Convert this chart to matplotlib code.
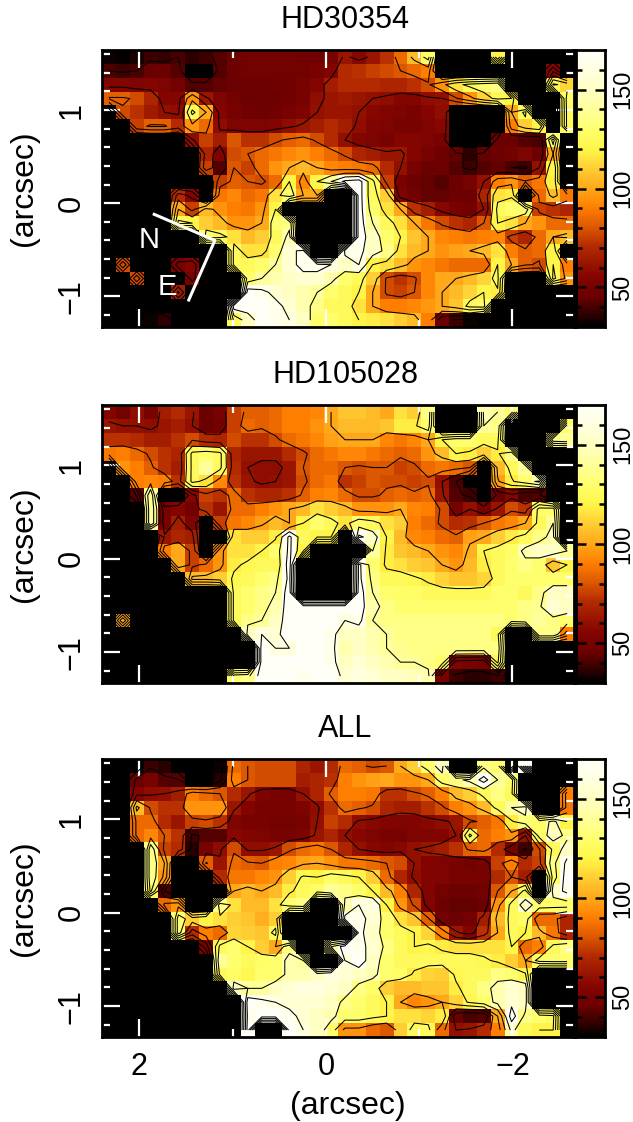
import numpy as np
import matplotlib
matplotlib.use("Agg")
import matplotlib.pyplot as plt
from matplotlib.colors import LinearSegmentedColormap

plt.rcParams['font.family'] = ['Liberation Sans', 'DejaVu Sans']

titles = ["HD30354", "HD105028", "ALL"]

# values, top row first, left column first (0 = black hole)
hd30354 = [
 [32,31,33,38,37,40,36,38,42,46,48,48,48,48,47,47,50,62,56,62,72,85,105,128,0,0,0,0,120,0,0,0,0,0],
 [40,38,40,45,45,42,30,30,42,46,48,48,48,48,48,50,55,70,72,75,78,80,85,90,0,0,0,0,0,0,0,0,55,0],
 [55,55,52,55,52,48,42,42,44,46,46,46,47,47,50,55,65,70,70,70,68,68,72,78,95,115,125,130,135,0,0,0,124,112],
 [82,82,78,68,55,55,95,62,52,48,46,46,46,47,50,58,62,64,62,60,58,55,55,58,60,78,95,112,125,120,0,0,0,128],
 [0,78,72,64,60,58,125,100,55,50,47,46,47,50,52,60,62,62,60,56,54,52,50,55,58,0,0,0,0,100,125,0,0,125],
 [0,0,75,82,82,70,95,85,58,52,52,52,55,58,62,65,70,65,58,54,52,50,50,52,56,0,0,0,0,90,110,120,0,125],
 [0,0,0,0,0,0,58,75,65,80,72,72,78,82,85,78,70,60,55,52,50,55,55,52,50,0,0,0,45,45,42,40,130,0],
 [0,0,0,0,0,0,0,68,52,78,80,85,88,92,95,90,85,78,68,65,62,62,55,50,46,44,36,44,46,48,52,46,100,0],
 [0,0,0,0,0,0,0,75,42,80,75,85,95,100,105,100,92,90,88,85,70,60,50,45,46,42,38,42,44,40,38,60,120,0],
 [0,0,0,0,0,0,0,0,75,82,80,78,85,120,92,120,140,165,170,125,75,50,46,44,42,46,50,60,90,95,82,88,118,0],
 [0,0,0,0,0,70,55,0,88,92,85,88,115,130,100,100,0,0,170,125,110,52,48,44,44,46,46,68,115,118,0,85,105,88],
 [0,0,0,0,0,100,75,105,95,90,88,95,120,0,0,0,0,0,170,130,115,100,72,65,56,50,48,60,125,130,130,75,72,68],
 [0,0,0,0,0,125,120,110,105,95,95,100,130,135,0,0,0,0,170,140,125,115,100,88,78,72,68,80,120,115,100,95,85,85],
 [0,0,0,0,0,0,0,130,125,115,105,110,125,145,0,0,0,0,170,150,130,120,108,100,92,90,88,90,92,75,68,85,100,105],
 [0,0,0,0,0,0,0,0,0,125,115,115,130,155,165,0,0,165,165,150,135,115,105,100,95,98,100,105,115,90,82,85,120,0],
 [0,78,0,0,0,50,55,0,0,125,125,130,140,155,165,165,160,150,160,120,115,105,95,92,88,85,85,85,120,100,82,78,120,90],
 [0,0,78,0,0,0,50,0,0,0,130,140,145,150,155,155,145,130,125,110,78,72,78,92,100,100,105,112,125,0,0,0,125,95],
 [0,0,0,0,0,65,0,0,0,0,170,165,155,150,145,140,130,125,120,100,78,75,80,92,100,105,112,120,118,0,0,0,0,0],
 [0,0,0,0,0,0,0,0,0,170,170,170,165,155,145,135,125,125,115,100,90,90,92,96,100,108,125,128,0,0,0,0,0,0],
 [0,0,0,32,36,0,0,0,0,125,150,170,165,160,150,130,130,125,120,118,115,110,105,90,45,38,32,0,0,0,0,0,0,0],
]

hd105028 = [
 [55,48,58,50,65,70,62,45,50,75,82,82,85,90,90,92,100,108,108,105,100,115,110,135,0,0,0,145,140,130,0,0,0,0],
 [62,60,60,58,62,65,60,45,48,75,85,82,85,90,90,95,100,105,105,105,108,118,118,130,0,0,0,140,135,0,0,0,0,130],
 [72,72,70,65,65,72,78,70,68,78,72,72,78,85,88,92,98,100,100,100,92,88,92,100,120,130,130,125,125,0,0,0,135,140],
 [88,90,85,78,72,68,125,130,125,68,62,62,62,70,78,85,88,92,92,88,85,82,85,95,105,120,118,110,118,135,0,0,0,0],
 [0,95,90,82,72,65,125,140,125,70,60,58,58,62,80,85,85,80,78,80,80,75,78,85,88,85,80,0,105,125,140,0,0,0],
 [0,0,90,92,90,72,125,115,92,72,62,58,60,62,78,85,88,72,75,80,78,78,75,78,60,40,0,0,98,118,130,145,0,0],
 [0,0,42,140,0,0,55,75,72,85,72,68,68,72,82,90,92,85,78,78,82,85,82,85,62,42,38,0,45,55,40,42,0,0],
 [0,0,0,140,50,55,48,72,62,85,85,90,95,100,105,115,110,105,95,95,95,100,92,90,78,50,60,50,62,78,72,128,130,0],
 [0,0,0,140,50,65,52,0,75,88,92,98,105,100,120,130,125,115,130,125,115,110,90,85,78,70,72,80,88,92,100,125,140,0],
 [0,0,0,0,62,68,65,0,0,115,110,110,118,165,125,120,120,0,165,150,120,105,92,90,85,82,98,100,110,118,125,135,145,0],
 [0,0,0,0,90,100,75,0,95,115,115,120,130,165,120,0,0,0,0,140,118,108,105,100,95,92,102,120,125,128,145,150,150,140],
 [0,0,0,0,0,100,75,85,95,118,122,125,125,170,0,0,0,0,165,130,118,115,110,108,100,95,105,118,125,130,135,130,108,120],
 [0,0,0,0,0,0,105,105,110,122,125,130,135,165,0,0,0,0,165,135,125,125,122,118,112,108,108,112,125,130,130,130,130,130],
 [0,0,0,0,0,0,0,0,0,125,130,135,140,170,0,0,0,0,170,140,130,128,128,125,125,125,125,125,130,130,125,135,150,150],
 [0,0,0,0,0,0,0,0,0,125,130,135,145,170,170,170,170,170,170,145,135,130,130,130,130,130,130,130,130,130,135,138,155,150],
 [0,100,0,0,0,0,0,0,0,125,135,140,150,170,170,170,170,160,165,140,135,135,135,135,135,135,135,135,135,130,135,140,135,130],
 [0,0,0,0,0,0,0,0,0,0,150,160,155,170,170,170,165,150,150,145,140,135,135,135,135,135,135,135,125,0,0,135,135,90],
 [0,0,0,0,0,0,0,0,0,0,0,170,160,160,170,170,165,145,150,145,140,138,135,135,135,135,135,135,135,0,0,0,0,0],
 [0,0,0,0,0,0,0,0,0,0,0,170,170,170,170,170,165,150,155,150,145,140,140,135,130,52,50,48,125,0,0,0,0,0],
 [0,0,0,0,0,0,0,0,0,130,135,170,170,170,165,170,170,155,160,155,150,150,148,145,50,38,35,36,38,0,0,0,0,0],
]

hd_all = [
 [0,0,0,38,35,0,0,0,32,85,80,78,78,78,68,62,70,85,82,78,80,100,110,130,150,0,0,135,130,0,170,0,0,0],
 [0,0,45,50,42,42,0,0,35,90,80,78,78,78,65,68,72,90,95,98,100,95,95,100,130,135,145,168,140,130,0,0,0,0],
 [0,0,55,58,60,65,90,85,80,70,62,52,50,50,60,68,82,90,90,88,72,72,78,82,90,105,110,125,135,125,0,0,0,90],
 [0,0,105,78,72,72,95,95,95,62,54,50,50,50,52,58,72,85,82,78,68,65,65,72,78,90,95,105,125,140,150,0,0,88],
 [0,0,85,85,70,62,75,78,72,52,50,50,48,48,50,60,75,70,58,56,54,52,54,56,58,62,78,82,88,118,132,128,145,120],
 [0,0,85,92,80,72,38,42,42,56,54,52,50,50,52,62,68,60,56,52,50,50,52,52,54,60,125,85,90,95,60,128,150,135],
 [0,0,0,135,75,70,35,50,58,78,58,58,62,78,85,88,80,68,60,56,54,56,60,62,65,72,82,85,70,48,38,78,125,150],
 [0,0,0,135,100,0,0,82,62,85,82,80,90,92,98,100,95,88,88,85,80,78,60,54,52,50,48,50,75,90,70,75,135,165],
 [0,0,0,135,95,0,0,0,70,88,88,92,95,110,122,120,128,125,120,110,85,68,58,54,52,50,50,50,70,80,65,0,130,170],
 [0,0,0,125,40,0,0,0,0,100,105,100,105,118,125,128,140,135,130,120,105,90,68,54,48,46,46,48,80,100,125,0,150,165],
 [0,0,0,0,85,95,0,0,135,115,105,105,115,130,135,0,0,145,160,160,120,95,78,54,46,44,44,46,95,125,150,130,128,130],
 [0,0,0,0,0,130,110,120,115,110,108,102,110,0,0,0,0,165,165,155,130,115,108,82,48,46,48,65,105,125,128,85,85,68],
 [0,0,0,0,0,130,70,90,85,112,110,108,125,0,0,0,0,0,165,150,130,125,120,112,90,62,54,72,100,125,120,105,88,68],
 [0,0,0,0,0,0,0,50,125,130,120,110,100,135,0,0,140,170,165,155,135,125,120,122,118,115,115,115,115,120,85,90,125,135],
 [0,0,0,0,0,0,0,0,140,130,125,128,130,145,140,0,0,160,170,150,130,125,125,125,125,125,125,122,118,110,100,128,130,130],
 [0,0,0,0,0,0,0,0,125,128,122,130,130,145,145,150,160,155,150,145,130,128,118,112,110,122,125,125,135,130,122,0,0,0],
 [0,0,0,0,0,0,0,0,0,150,140,140,150,155,160,160,155,150,135,128,110,105,105,108,108,118,125,135,145,155,150,0,0,0],
 [0,0,0,0,0,0,0,0,0,0,170,165,160,155,155,155,150,135,130,125,120,100,92,95,100,112,122,130,145,155,150,0,0,0],
 [0,0,0,0,0,0,0,0,0,0,165,170,170,165,155,150,145,130,130,125,120,115,115,112,118,45,40,42,100,170,135,130,125,0],
 [0,0,0,0,0,0,0,0,0,0,170,0,0,170,160,150,130,95,95,85,80,110,125,125,85,60,62,70,90,145,125,120,120,0],
]

contour_levels = [20, 40, 60, 80, 100, 120, 140, 160]
cbar_major = [50, 100, 150]
cbar_minor = [40, 60, 70, 80, 90, 110, 120, 130, 140, 160]

cmap = LinearSegmentedColormap.from_list("heat", [
    (0.0, (0, 0, 0)), (0.05, (0.22, 0, 0)), (0.107, (0.42, 0, 0)), (0.179, (0.52, 0.02, 0)),
    (0.286, (0.70, 0.16, 0)), (0.357, (0.86, 0.34, 0)), (0.43, (1, 0.50, 0)),
    (0.5, (1, 0.66, 0.10)), (0.57, (1, 0.80, 0.20)), (0.64, (1, 0.96, 0.28)),
    (0.71, (1, 1, 0.42)), (0.786, (1, 1, 0.60)), (0.857, (1, 1, 0.76)),
    (0.93, (1, 1, 0.88)), (1.0, (1, 1, 0.97))])

W, H = 633.0, 1122.0
tops = [50, 405, 759]
bots = [327, 683, 1037]
x_range = (2.40, -2.66)
y_range = (-1.33, 1.645)

fig = plt.figure(figsize=(6.33, 11.22), dpi=100)


def pix_axes(left, top, right, bottom):
    return fig.add_axes([left / W, 1 - bottom / H, (right - left) / W, (bottom - top) / H])


for i, data in enumerate([hd30354, hd105028, hd_all]):
    z = np.array(data, dtype=float)
    ax = pix_axes(102, tops[i], 574, bots[i])
    ny, nx = z.shape
    xe = np.linspace(x_range[0], x_range[1], nx + 1)
    ye = np.linspace(y_range[1], y_range[0], ny + 1)
    xc = 0.5 * (xe[:-1] + xe[1:])
    yc = 0.5 * (ye[:-1] + ye[1:])
    ax.pcolormesh(xe, ye, z, cmap=cmap, vmin=30, vmax=170, shading='flat')
    ax.contour(xc, yc, z, levels=contour_levels, colors='black', linewidths=0.75)
    ax.set_xlim(x_range)
    ax.set_ylim(y_range)

    ax.set_xticks([2, 0, -2])
    ax.set_xticks([1, -1], minor=True)
    ax.set_yticks([1, 0, -1])
    ax.set_yticks(np.arange(-12, 17, 2) / 10, minor=True)
    ax.tick_params(which='major', direction='in', length=13, width=1.6, color='white',
                   top=True, right=True, labelsize=22, pad=11)
    ax.tick_params(which='minor', direction='in', length=6, width=1.6, color='white',
                   top=True, right=True)
    ax.set_yticklabels(['1', '0', '\u22121'], rotation=90, va='center')
    if i == 2:
        ax.set_xticklabels(['2', '0', '\u22122'])
        ax.set_xlabel("(arcsec)", fontsize=23, labelpad=6, x=0.52)
    else:
        ax.set_xticklabels([])
    ax.set_ylabel("(arcsec)", fontsize=23, labelpad=13)
    ax.set_title(titles[i], fontsize=22, pad=16, x=0.515)
    for s in ax.spines.values():
        s.set_linewidth(2)

    # colorbar
    cax = pix_axes(576, tops[i], 605, bots[i])
    grad = np.linspace(30, 170, 141).reshape(-1, 1)
    cax.imshow(grad, origin='lower', aspect='auto', cmap=cmap, vmin=30, vmax=170,
               extent=[0, 1, 30, 170])
    cax.set_xticks([])
    cax.yaxis.tick_right()
    cax.set_yticks(cbar_major)
    cax.set_yticks(cbar_minor, minor=True)
    cax.tick_params(which='major', direction='in', length=7.5, width=1.8, color='black',
                    left=True, right=True, labelsize=17, pad=5)
    cax.tick_params(which='minor', direction='in', length=4, width=1.8, color='black',
                    left=True, right=True)
    plt.setp(cax.get_yticklabels(), rotation=90, va='center')
    for s in cax.spines.values():
        s.set_linewidth(2)

    if i == 0:
        # north / east arrows
        ax.plot([1.84, 1.19, 1.47], [-0.12, -0.40, -1.04], color='white', lw=2.2)
        ax.text(1.89, -0.40, "N", color='white', fontsize=21, ha='center', va='center')
        ax.text(1.70, -0.90, "E", color='white', fontsize=21, ha='center', va='center')

fig.savefig("out.png", dpi=100)
